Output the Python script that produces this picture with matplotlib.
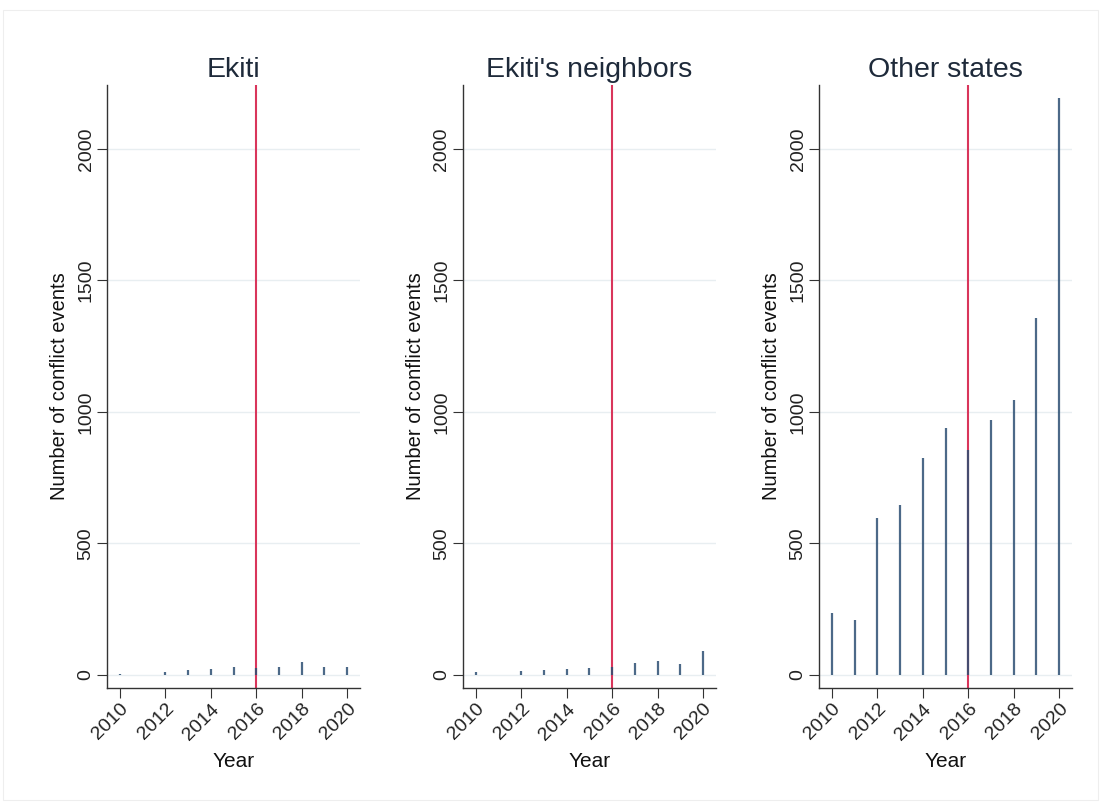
import matplotlib
matplotlib.use("Agg")
import matplotlib.pyplot as plt
from matplotlib.patches import Rectangle

plt.rcParams['font.family'] = ['Liberation Sans', 'DejaVu Sans']

# yearly conflict events by region
years = [2010, 2011, 2012, 2013, 2014, 2015, 2016, 2017, 2018, 2019, 2020]
ekiti = [2, 0, 10, 19, 21, 28, 25, 30, 49, 29, 30]
neighbors = [9, 0, 13, 18, 21, 25, 29, 47, 54, 43, 89]
others = [237, 209, 597, 646, 823, 937, 855, 968, 1044, 1356, 2195]

titles = ["Ekiti", "Ekiti's neighbors", "Other states"]
series = [ekiti, neighbors, others]
xticks = [2010, 2012, 2014, 2016, 2018, 2020]
yticks = [0, 500, 1000, 1500, 2000]
policy_year = 2016

fig = plt.figure(figsize=(11.01, 8.08), dpi=100)
fig.patches.append(Rectangle((0.003, 0.01), 0.994, 0.978, transform=fig.transFigure,
                             fill=False, edgecolor='#eeeeee', linewidth=0.8))

lefts = [0.0972, 0.4205, 0.7439]
for left, title, vals in zip(lefts, titles, series):
    ax = fig.add_axes([left, 0.1485, 0.2298, 0.7463])
    ax.set_xlim(2009.43, 2020.57)
    ax.set_ylim(-50, 2243)
    ax.set_yticks(yticks)
    ax.set_xticks(xticks)
    ax.grid(axis='y', color='#e8eef1', linewidth=1.0)
    ax.set_axisbelow(True)
    # spikes sit on top of the reference line
    ax.axvline(policy_year, color='#d9355b', linewidth=1.5, zorder=2)
    ax.vlines(years, 0, vals, color='#2c4f73', linewidth=1.6, alpha=0.85, zorder=3)
    for side in ['top', 'right']:
        ax.spines[side].set_visible(False)
    for side in ['left', 'bottom']:
        ax.spines[side].set_color('#333333')
        ax.spines[side].set_linewidth(1.0)
    ax.tick_params(axis='both', direction='out', length=7, color='#333333',
                   labelsize=14, labelcolor='#222222', pad=2)
    plt.setp(ax.get_yticklabels(), rotation=90, va='center')
    plt.setp(ax.get_xticklabels(), rotation=45, ha='right', rotation_mode='anchor')
    ax.set_title(title, fontsize=20.5, color='#1e2a3a', pad=6)
    ax.set_ylabel("Number of conflict events", fontsize=14.5, color='#111111', labelpad=6)
    ax.set_xlabel("Year", fontsize=15, color='#111111', labelpad=6)

fig.savefig("out.png", dpi=100, facecolor='white')
